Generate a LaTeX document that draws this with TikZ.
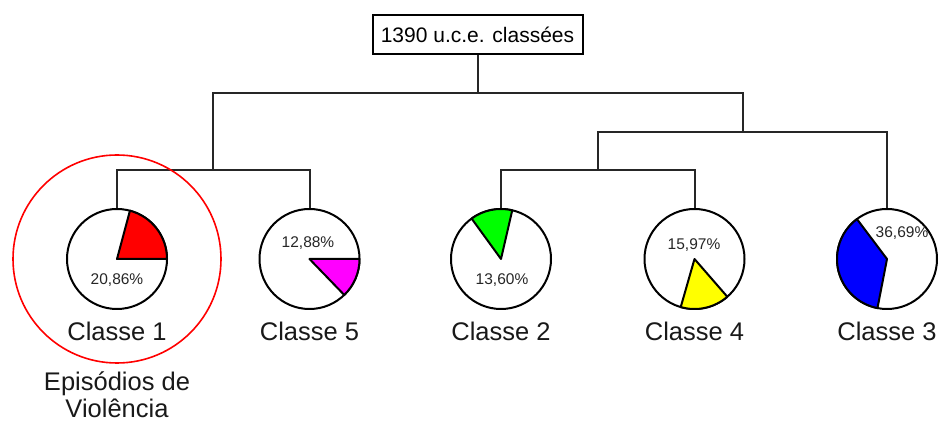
\documentclass[tikz,border=0pt]{standalone}
\usepackage{fontspec}
\setmainfont{Liberation Sans}
\begin{document}
\begin{tikzpicture}[x=1pt,y=1pt,
  tree/.style={line width=2pt,draw=black!85},
  piebox/.style={circle,draw=black,fill=white,line width=2pt,minimum size=100pt,inner sep=0pt},
  slice/.style={draw=black,line width=2pt,line join=round},
  cls/.style={font=\fontsize{25.5}{28}\selectfont,text=black!90},
  pct/.style={font=\fontsize{15.5}{18}\selectfont,text=black!85},
  topbox/.style={draw=black,line width=2pt,fill=white,minimum width=210pt,minimum height=39pt,inner sep=0pt,font=\fontsize{21}{24}\selectfont}]
\definecolor{pmag}{RGB}{255,0,255}
\definecolor{pgreen}{RGB}{0,255,0}
\definecolor{pyellow}{RGB}{255,255,0}
\definecolor{pblue}{RGB}{0,0,255}
\definecolor{pred}{RGB}{255,0,0}
\useasboundingbox (0,0) rectangle (940,423);
% top node
\node[topbox] (top) at (477.5,388) {1390 u.c.e. classées};
% pies
\node[piebox] (p1) at (117,164) {};
\node[piebox] (p5) at (309.5,164) {};
\node[piebox] (p2) at (501,164) {};
\node[piebox] (p4) at (694.5,164) {};
\node[piebox] (p3) at (887,164) {};
% slices
\filldraw[slice,fill=pred] (p1.center) -- ++(0:50pt) arc[start angle=0,end angle=75,radius=50pt] -- cycle;
\filldraw[slice,fill=pmag] (p5.center) -- ++(-46:50pt) arc[start angle=-46,end angle=0,radius=50pt] -- cycle;
\filldraw[slice,fill=pgreen] (p2.center) -- ++(77:50pt) arc[start angle=77,end angle=126,radius=50pt] -- cycle;
\filldraw[slice,fill=pyellow] (p4.center) -- ++(254:50pt) arc[start angle=254,end angle=311,radius=50pt] -- cycle;
\filldraw[slice,fill=pblue] (p3.center) -- ++(127:50pt) arc[start angle=127,end angle=259,radius=50pt] -- cycle;
% percentage labels
\node[pct] (t1) at (117,143) {20,86\%};
\node[pct] (t5) at (308,180) {12,88\%};
\node[pct] (t2) at (502,143) {13,60\%};
\node[pct] (t4) at (694,178) {15,97\%};
\node[pct] (t3) at (902,190) {36,69\%};
% tree
\coordinate (h) at (477.5,329.7);
\coordinate (c1) at (213,253);
\coordinate (c2) at (598,253);
\coordinate (c3) at (743,291.3);
\draw[tree] (top.south) -- (h);
\draw[tree] (c1) |- (h) -| (c3);
\draw[tree] (p1.north) |- (c1) -| (p5.north);
\draw[tree] (p2.north) |- (c2) -| (p4.north);
\draw[tree] (c2) |- (c3) -| (p3.north);
% class labels
\node[cls] (l1) at (117,92) {Classe 1};
\node[cls] (l5) at (309.5,92) {Classe 5};
\node[cls] (l2) at (501,92) {Classe 2};
\node[cls] (l4) at (694.5,92) {Classe 4};
\node[cls] (l3) at (887,92) {Classe 3};
\node[cls,align=center,font=\fontsize{25.5}{27}\selectfont] (ep) at (117,28) {Episódios de\\Violência};
% highlight circle
\draw[pred,line width=1.6pt] (p1.center) circle[radius=104pt];
\end{tikzpicture}
\end{document}
